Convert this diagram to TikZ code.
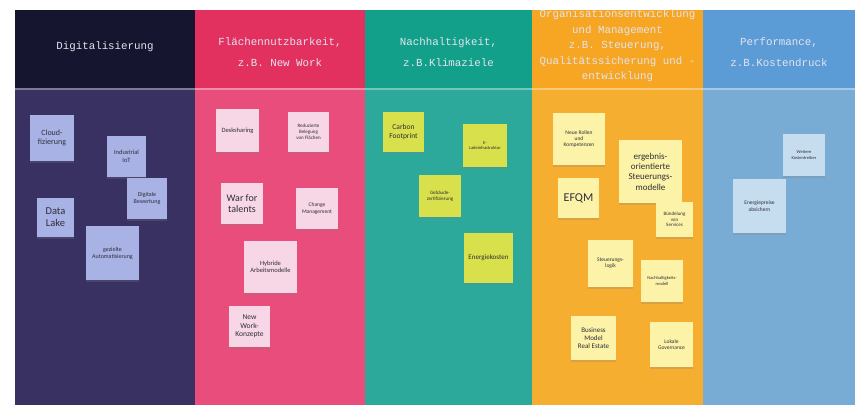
\documentclass[tikz,border=0pt]{standalone}
\usepackage{fontspec}
\setmainfont{Carlito}
\newfontfamily\headfont{Liberation Mono}
\usetikzlibrary{shadows}
\definecolor{navyHead}{HTML}{151530}
\definecolor{navyBody}{HTML}{3A3163}
\definecolor{pinkHead}{HTML}{E2305F}
\definecolor{pinkBody}{HTML}{E84D7B}
\definecolor{tealHead}{HTML}{12A08B}
\definecolor{tealBody}{HTML}{2CA99A}
\definecolor{orangeHead}{HTML}{F6A623}
\definecolor{orangeBody}{HTML}{F5AE30}
\definecolor{blueHead}{HTML}{5B9BD6}
\definecolor{blueBody}{HTML}{79ACD4}
\definecolor{noteLav}{HTML}{A9B2E4}
\definecolor{notePink}{HTML}{F7D6E5}
\definecolor{noteLime}{HTML}{D8E04C}
\definecolor{noteYel}{HTML}{FCF3A8}
\definecolor{noteBlue}{HTML}{C6DDF0}
\definecolor{noteTxt}{HTML}{2E2E3A}
\definecolor{headTxt}{HTML}{E4E4EE}

\begin{document}
\begin{tikzpicture}
[
	x=1pt,y=-1pt,
	hd/.style={text=headTxt,align=center,font=\headfont\fontsize{10.8}{15.5}\selectfont},
	nt/.style={rectangle,fill=#1,text=noteTxt,align=center,inner sep=1pt,
		drop shadow={opacity=0.25,shadow xshift=0pt,shadow yshift=-1.5pt}},
	fs/.style={/utils/exec={\pgfmathsetmacro\nlh{#1*1.15}},font=\fontsize{#1}{\nlh}\selectfont}
]

\useasboundingbox (0,0) rectangle (855,407);
\fill[white] (0,0) rectangle (855,407);

\fill[navyBody] (15,10) rectangle (195,405);
\fill[pinkBody] (195,10) rectangle (365,405);
\fill[tealBody] (365,10) rectangle (532,405);
\fill[orangeBody] (532,10) rectangle (703,405);
\fill[blueBody] (703,10) rectangle (855,405);

\fill[navyHead] (15,10) rectangle (195,88);
\fill[pinkHead] (195,10) rectangle (365,88);
\fill[tealHead] (365,10) rectangle (532,88);
\fill[orangeHead] (532,10) rectangle (703,88);
\fill[blueHead] (703,10) rectangle (855,88);
\draw[white,opacity=0.35,line width=2] (15,89) -- (855,89);

\node[hd] (h1) at (105,47) {Digitalisierung};
\node[hd] (h2) at (280,52.5) {Flächennutzbarkeit,\\[5.5pt] z.B. New Work};
\node[hd] (h3) at (448.5,52.5) {Nachhaltigkeit,\\[5.5pt] z.B.Klimaziele};
\node[hd] (h4) at (617.5,46) {Organisationsentwicklung\\ und Management\\ z.B. Steuerung,\\ Qualitätssicherung und -\\ entwicklung};
\node[hd] (h5) at (779,52.5) {Performance,\\[5.5pt] z.B.Kostendruck};

\node[nt=noteLav,fs=8,minimum width=44,minimum height=46] (c1) at (52,138) {Cloud-\\fizierung};
\node[nt=noteLav,fs=6.5,minimum width=39,minimum height=41] (c2) at (126.5,156.5) {Industrial\\IoT};
\node[nt=noteLav,fs=6,minimum width=40,minimum height=41] (c3) at (147,198.5) {Digitale\\Bewertung};
\node[nt=noteLav,fs=10.5,minimum width=37,minimum height=39] (c4) at (55.5,217.5) {Data\\Lake};
\node[nt=noteLav,fs=6,minimum width=53,minimum height=54] (c5) at (112.5,253) {gezielte\\Automatisierung};

\node[nt=notePink,fs=6.5,minimum width=43,minimum height=43] (p1) at (237.5,130.5) {Desksharing};
\node[nt=notePink,fs=5,minimum width=41,minimum height=40] (p2) at (308.5,132) {Reduzierte\\Belegung\\von Flächen};
\node[nt=notePink,fs=10,minimum width=42,minimum height=41] (p3) at (242,203.5) {War for\\talents};
\node[nt=notePink,fs=5.5,minimum width=42,minimum height=41] (p4) at (317,208.5) {Change\\Management};
\node[nt=notePink,fs=6.5,minimum width=53,minimum height=52] (p5) at (270.5,267) {Hybride\\Arbeitsmodelle};
\node[nt=notePink,fs=7.5,minimum width=41,minimum height=41] (p6) at (249.5,326.5) {New\\Work-\\Konzepte};

\node[nt=noteLime,fs=7.5,minimum width=41,minimum height=40] (g1) at (403.5,132) {Carbon\\Footprint};
\node[nt=noteLime,fs=4.5,minimum width=44,minimum height=43] (g2) at (485,145.5) {E-\\Ladeinfrastruktur};
\node[nt=noteLime,fs=5,minimum width=42,minimum height=42] (g3) at (440,196) {Gebäude-\\zertifizierung};
\node[nt=noteLime,fs=7,minimum width=49,minimum height=50] (g4) at (488.5,258) {Energiekosten};

\node[nt=noteYel,fs=5.5,minimum width=52,minimum height=52] (o1) at (579,139) {Neue Rollen\\und\\Kompetenzen};
\node[nt=noteYel,fs=9,minimum width=63,minimum height=63] (o2) at (650.5,171.5) {ergebnis-\\orientierte\\Steuerungs-\\modelle};
\node[nt=noteYel,fs=12,minimum width=41,minimum height=40] (o3) at (578.5,198) {EFQM};
\node[nt=noteYel,fs=5,minimum width=37,minimum height=35] (o4) at (674.5,219.5) {Bündelung\\von\\Services};
\node[nt=noteYel,fs=5.5,minimum width=45,minimum height=47] (o5) at (610.5,263.5) {Steuerungs-\\logik};
\node[nt=noteYel,fs=4.5,minimum width=42,minimum height=42] (o6) at (662,281) {Nachhaltigkeits-\\modell};
\node[nt=noteYel,fs=7,minimum width=45,minimum height=44] (o7) at (593.5,338) {Business\\Model\\Real Estate};
\node[nt=noteYel,fs=5.5,minimum width=43,minimum height=45] (o8) at (671.5,344.5) {Lokale\\Governance};

\node[nt=noteBlue,fs=4.5,minimum width=42,minimum height=42] (b1) at (804,155) {Weitere\\Kostentreiber};
\node[nt=noteBlue,fs=5.5,minimum width=53,minimum height=54] (b2) at (759.5,206) {Energiepreise\\absichern};

\end{tikzpicture}
\end{document}
